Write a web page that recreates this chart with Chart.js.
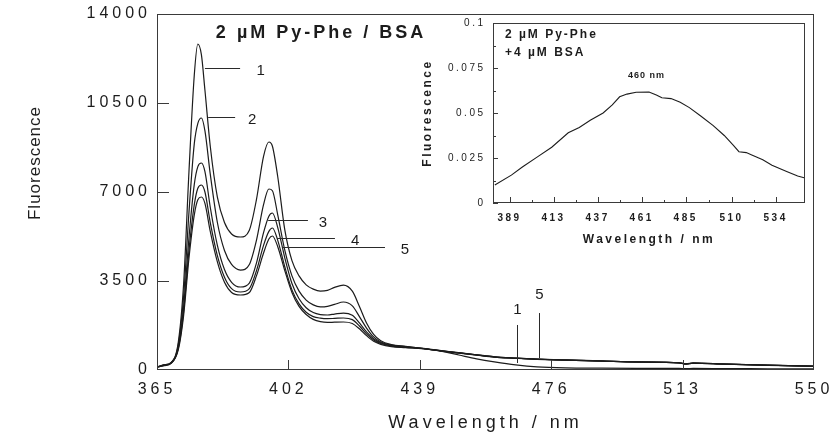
<!DOCTYPE html>
<html>
<head>
<meta charset="utf-8">
<title>Py-Phe / BSA fluorescence</title>
<script src="https://cdn.jsdelivr.net/npm/chart.js@4.4.1/dist/chart.umd.min.js"></script>
<style>
  html, body { margin: 0; padding: 0; background: #fff; }
  #wrap { position: relative; width: 835px; height: 440px; }
  #main { position: absolute; left: 0; top: 0; }
  #inset { position: absolute; left: 410px; top: 16px; }
</style>
</head>
<body>
<div id="wrap">
  <canvas id="main" width="835" height="440"></canvas>
  <canvas id="inset" width="400" height="236"></canvas>
</div>
<script>
  // Main panel: emission spectra 1..5 (wavelength in nm, fluorescence a.u.)
  const wavelengths = [365, 367, 369, 371, 372.5, 374, 375.5, 376.5, 377.5, 378.5,
    380, 382, 384, 386, 388.5, 391, 393, 395, 396.5, 397.5,
    399, 401, 403, 405, 407, 409, 411, 413, 415, 417.5,
    420, 422, 424, 426, 428, 431, 435, 440, 445, 450,
    455, 460, 466, 472, 480, 490, 500, 512, 514, 516,
    525, 537, 550];
  const spectrum1 = [120, 200, 300, 1100, 3400, 7800, 11600, 12820, 12400, 11000,
    8800, 6800, 5800, 5350, 5230, 5500, 6700, 8400, 8966, 8800,
    7600, 5500, 4300, 3700, 3350, 3180, 3100, 3130, 3250, 3340,
    3100, 2500, 1850, 1400, 1150, 1000, 930, 840, 740, 590,
    440, 320, 200, 120, 80, 70, 65, 60, 55, 60,
    55, 50, 45];
  const spectrum2 = [120, 200, 290, 1000, 2900, 6200, 8900, 9700, 9910, 9400,
    7700, 5800, 4700, 4150, 3930, 4150, 5100, 6500, 7118, 7050,
    6100, 4700, 3700, 3100, 2750, 2560, 2480, 2500, 2580, 2674,
    2520, 2100, 1650, 1300, 1100, 980, 920, 850, 760, 680,
    600, 520, 470, 430, 395, 360, 320, 285, 240, 275,
    235, 190, 150];
  const spectrum3 = [120, 190, 280, 900, 2500, 5200, 7300, 8000, 8140, 7800,
    6400, 4900, 3950, 3450, 3264, 3420, 4200, 5400, 6050, 6174,
    5600, 4400, 3400, 2800, 2450, 2260, 2180, 2163, 2200, 2240,
    2150, 1850, 1500, 1230, 1070, 960, 900, 845, 755, 675,
    595, 515, 465, 425, 390, 355, 318, 282, 238, 272,
    232, 188, 150];
  const spectrum4 = [110, 180, 270, 850, 2300, 4700, 6500, 7150, 7275, 7000,
    5800, 4500, 3650, 3200, 3067, 3200, 3900, 4900, 5450, 5584,
    5100, 4050, 3150, 2600, 2270, 2100, 2040, 2020, 2030, 2045,
    1980, 1730, 1420, 1180, 1040, 940, 890, 840, 750, 670,
    590, 510, 462, 422, 388, 352, 315, 280, 236, 270,
    230, 186, 148];
  const spectrum5 = [110, 170, 260, 800, 2150, 4400, 6100, 6700, 6803, 6550,
    5450, 4250, 3450, 3050, 2950, 3050, 3700, 4600, 5150, 5270,
    4850, 3900, 3050, 2500, 2180, 1990, 1900, 1870, 1880, 1888,
    1830, 1620, 1350, 1130, 1010, 920, 880, 835, 745, 665,
    585, 505, 460, 420, 385, 350, 312, 278, 234, 268,
    228, 185, 146];
  const spectra = [spectrum1, spectrum2, spectrum3, spectrum4, spectrum5];

  const mainXTicks = [365, 402, 439, 476, 513, 550];
  const mainYTicks = [0, 3500, 7000, 10500, 14000];

  // Inset: 2 µM Py-Phe + 4 µM BSA
  const insetWavelengths = [381, 390, 396, 404, 412, 421, 427, 433, 440, 445,
    449, 453, 458, 465, 469, 472, 477, 482, 487, 493,
    500, 506, 511, 514, 518, 521, 527, 532, 540, 546, 549.5];
  const insetFluorescence = [0.0100, 0.0155, 0.0200, 0.0255, 0.0310, 0.0390, 0.0420, 0.0460, 0.0500, 0.0545,
    0.0590, 0.0605, 0.0615, 0.0617, 0.0600, 0.0585, 0.0580, 0.0560, 0.0530, 0.0485,
    0.0430, 0.0375, 0.0320, 0.0285, 0.0280, 0.0267, 0.0240, 0.0210, 0.0175, 0.0150, 0.0140];
  const insetXTicks = [389, 413, 437, 461, 485, 510, 534];
  const insetYTicks = [0, 0.025, 0.05, 0.075, 0.1];

  const FONT = "'Liberation Sans', Arial, sans-serif";
  const INK = '#1c1c1c';
  const FRAME = '#3a3a3a';
  Chart.defaults.font.family = FONT;
  Chart.defaults.color = INK;

  // Leader lines next to the curves, in data units.
  const mainLeaders = [
    { label: '1', x: [378.5, 388.4], y: 11877, textX: 394.2 },
    { label: '2', x: [379.4, 387.0], y: 9950, textX: 391.8 },
    { label: '3', x: [396.3, 407.5], y: 5900, textX: 411.7 },
    { label: '4', x: [398.8, 415.1], y: 5190, textX: 420.8 },
    { label: '5', x: [400.2, 429.2], y: 4837, textX: 434.8 }
  ];
  const tailMarkers = [
    { label: '1', x: 466.4, y: [275, 1770], textY: 2360 },
    { label: '5', x: 472.6, y: [470, 2240], textY: 2950 }
  ];

  function setTicks(values) {
    return function (scale) {
      scale.ticks = values.map(function (v) { return { value: v }; });
    };
  }

  // fixed axis box size, and no extra room for the end labels
  function fixBox(size) {
    return function (s) {
      if (s.isHorizontal()) s.height = size; else s.width = size;
      s.paddingTop = 0;
      s.paddingBottom = 0;
      s.paddingLeft = 0;
      s.paddingRight = 0;
    };
  }

  const mainDecor = {
    id: 'mainDecor',
    beforeDraw(chart) {
      chart.ctx.letterSpacing = '4px';
    },
    afterDraw(chart) {
      const ctx = chart.ctx;
      const a = chart.chartArea;
      const x = chart.scales.x;
      const y = chart.scales.y;
      ctx.save();
      ctx.letterSpacing = '0px';
      ctx.strokeStyle = FRAME;
      ctx.lineWidth = 1;
      ctx.strokeRect(a.left + 0.5, a.top + 0.5, a.right - a.left - 1, a.bottom - a.top - 1);

      // inward tick marks
      ctx.beginPath();
      mainYTicks.slice(1, -1).forEach(function (v) {
        const py = Math.round(y.getPixelForValue(v)) + 0.5;
        ctx.moveTo(a.left, py);
        ctx.lineTo(a.left + 12, py);
      });
      mainXTicks.slice(1, -1).forEach(function (v) {
        const px = Math.round(x.getPixelForValue(v)) + 0.5;
        ctx.moveTo(px, a.bottom);
        ctx.lineTo(px, a.bottom - 10);
      });
      ctx.stroke();

      // curve labels
      ctx.strokeStyle = '#2a2a2a';
      ctx.fillStyle = INK;
      ctx.font = '15px ' + FONT;
      ctx.textAlign = 'center';
      ctx.textBaseline = 'middle';
      mainLeaders.forEach(function (l) {
        const py = Math.round(y.getPixelForValue(l.y)) + 0.5;
        ctx.beginPath();
        ctx.moveTo(x.getPixelForValue(l.x[0]), py);
        ctx.lineTo(x.getPixelForValue(l.x[1]), py);
        ctx.stroke();
        ctx.fillText(l.label, x.getPixelForValue(l.textX), py + 2);
      });
      tailMarkers.forEach(function (m) {
        const px = Math.round(x.getPixelForValue(m.x)) + 0.5;
        ctx.beginPath();
        ctx.moveTo(px, y.getPixelForValue(m.y[0]));
        ctx.lineTo(px, y.getPixelForValue(m.y[1]));
        ctx.stroke();
        ctx.fillText(m.label, px, y.getPixelForValue(m.textY));
      });

      // panel title
      ctx.font = 'bold 18px ' + FONT;
      ctx.letterSpacing = '3px';
      ctx.fillText('2 µM Py-Phe / BSA', x.getPixelForValue(411.2), y.getPixelForValue(13253));

      // y-axis title
      ctx.font = '17px ' + FONT;
      ctx.letterSpacing = '1px';
      ctx.translate(35, 163);
      ctx.rotate(-Math.PI / 2);
      ctx.fillText('Fluorescence', 0, 0);
      ctx.restore();
    }
  };

  new Chart(document.getElementById('main'), {
    type: 'line',
    data: {
      datasets: spectra.map(function (s, k) {
        return {
          label: 'Spectrum ' + (k + 1),
          data: wavelengths.map(function (w, i) { return { x: w, y: s[i] }; }),
          borderColor: INK,
          borderWidth: 1.2,
          pointRadius: 0,
          fill: false,
          cubicInterpolationMode: 'monotone'
        };
      })
    },
    options: {
      responsive: false,
      animation: false,
      events: [],
      layout: { padding: { top: 14, right: 21, left: 0, bottom: 0 } },
      plugins: { legend: { display: false }, tooltip: { enabled: false } },
      scales: {
        x: {
          type: 'linear',
          min: 365,
          max: 550,
          afterBuildTicks: setTicks(mainXTicks),
          afterFit: fixBox(70),
          grid: { display: false, drawTicks: false },
          border: { display: false },
          ticks: {
            font: { size: 16 },
            color: INK,
            padding: 10,
            maxRotation: 0,
            autoSkip: false,
            callback: function (v) { return String(v); }
          },
          title: {
            display: true,
            text: 'Wavelength / nm',
            font: { size: 18 },
            color: INK,
            padding: { top: 0, bottom: 6.2 }
          }
        },
        y: {
          min: 0,
          max: 14000,
          afterBuildTicks: setTicks(mainYTicks),
          afterFit: fixBox(157),
          grid: { display: false, drawTicks: false },
          border: { display: false },
          ticks: {
            font: { size: 16 },
            color: INK,
            padding: 6,
            callback: function (v) { return String(v); }
          }
        }
      }
    },
    plugins: [mainDecor]
  });

  const insetDecor = {
    id: 'insetDecor',
    beforeDraw(chart) {
      chart.ctx.letterSpacing = '2.5px';
    },
    afterDraw(chart) {
      const ctx = chart.ctx;
      const a = chart.chartArea;
      const x = chart.scales.x;
      const y = chart.scales.y;
      ctx.save();
      ctx.letterSpacing = '0px';
      ctx.strokeStyle = FRAME;
      ctx.lineWidth = 1;
      ctx.strokeRect(a.left + 0.5, a.top + 0.5, a.right - a.left - 1, a.bottom - a.top - 1);

      ctx.beginPath();
      insetXTicks.forEach(function (v, i) {
        const px = Math.round(x.getPixelForValue(v)) + 0.5;
        ctx.moveTo(px, a.bottom);
        ctx.lineTo(px, a.bottom - 6);
        if (i < insetXTicks.length - 1) {
          const mx = Math.round(x.getPixelForValue((v + insetXTicks[i + 1]) / 2)) + 0.5;
          ctx.moveTo(mx, a.bottom);
          ctx.lineTo(mx, a.bottom - 3);
        }
      });
      insetYTicks.forEach(function (v, i) {
        const py = Math.round(y.getPixelForValue(v)) + 0.5;
        ctx.moveTo(a.left, py);
        ctx.lineTo(a.left + 5, py);
        if (i < insetYTicks.length - 1) {
          const my = Math.round(y.getPixelForValue((v + insetYTicks[i + 1]) / 2)) + 0.5;
          ctx.moveTo(a.left, my);
          ctx.lineTo(a.left + 3, my);
        }
      });
      ctx.stroke();

      ctx.fillStyle = INK;
      ctx.textBaseline = 'middle';
      ctx.textAlign = 'left';
      ctx.font = 'bold 12px ' + FONT;
      ctx.letterSpacing = '2px';
      ctx.fillText('2 µM Py-Phe', x.getPixelForValue(386.5), y.getPixelForValue(0.0933));
      ctx.fillText('+4 µM BSA', x.getPixelForValue(386.5), y.getPixelForValue(0.0833));
      ctx.textAlign = 'center';
      ctx.font = 'bold 9px ' + FONT;
      ctx.letterSpacing = '1px';
      ctx.fillText('460 nm', x.getPixelForValue(463.7), y.getPixelForValue(0.0706));
      ctx.restore();
    }
  };

  new Chart(document.getElementById('inset'), {
    type: 'line',
    data: {
      datasets: [{
        label: '2 µM Py-Phe + 4 µM BSA',
        data: insetWavelengths.map(function (w, i) { return { x: w, y: insetFluorescence[i] }; }),
        borderColor: INK,
        borderWidth: 1.1,
        pointRadius: 0,
        fill: false,
        tension: 0
      }]
    },
    options: {
      responsive: false,
      animation: false,
      events: [],
      layout: { padding: { top: 7, right: 5, left: 0, bottom: 0 } },
      plugins: { legend: { display: false }, tooltip: { enabled: false } },
      scales: {
        x: {
          type: 'linear',
          min: 380,
          max: 550,
          afterBuildTicks: setTicks(insetXTicks),
          afterFit: fixBox(49),
          grid: { display: false, drawTicks: false },
          border: { display: false },
          ticks: {
            font: { size: 10, weight: 'bold' },
            color: INK,
            padding: 9,
            maxRotation: 0,
            autoSkip: false,
            callback: function (v) { return String(v); }
          },
          title: {
            display: true,
            text: 'Wavelength / nm',
            font: { size: 12, weight: 'bold' },
            color: INK,
            padding: { top: 0, bottom: 4.8 }
          }
        },
        y: {
          min: 0,
          max: 0.1,
          afterBuildTicks: setTicks(insetYTicks),
          afterFit: fixBox(83),
          grid: { display: false, drawTicks: false },
          border: { display: false },
          ticks: {
            font: { size: 10 },
            color: INK,
            padding: 7.5,
            callback: function (v) { return String(+v.toFixed(3)); }
          },
          title: {
            display: true,
            text: 'Fluorescence',
            font: { size: 12, weight: 'bold' },
            color: INK,
            padding: { top: 10.8, bottom: 0 }
          }
        }
      }
    },
    plugins: [insetDecor]
  });
</script>
</body>
</html>
